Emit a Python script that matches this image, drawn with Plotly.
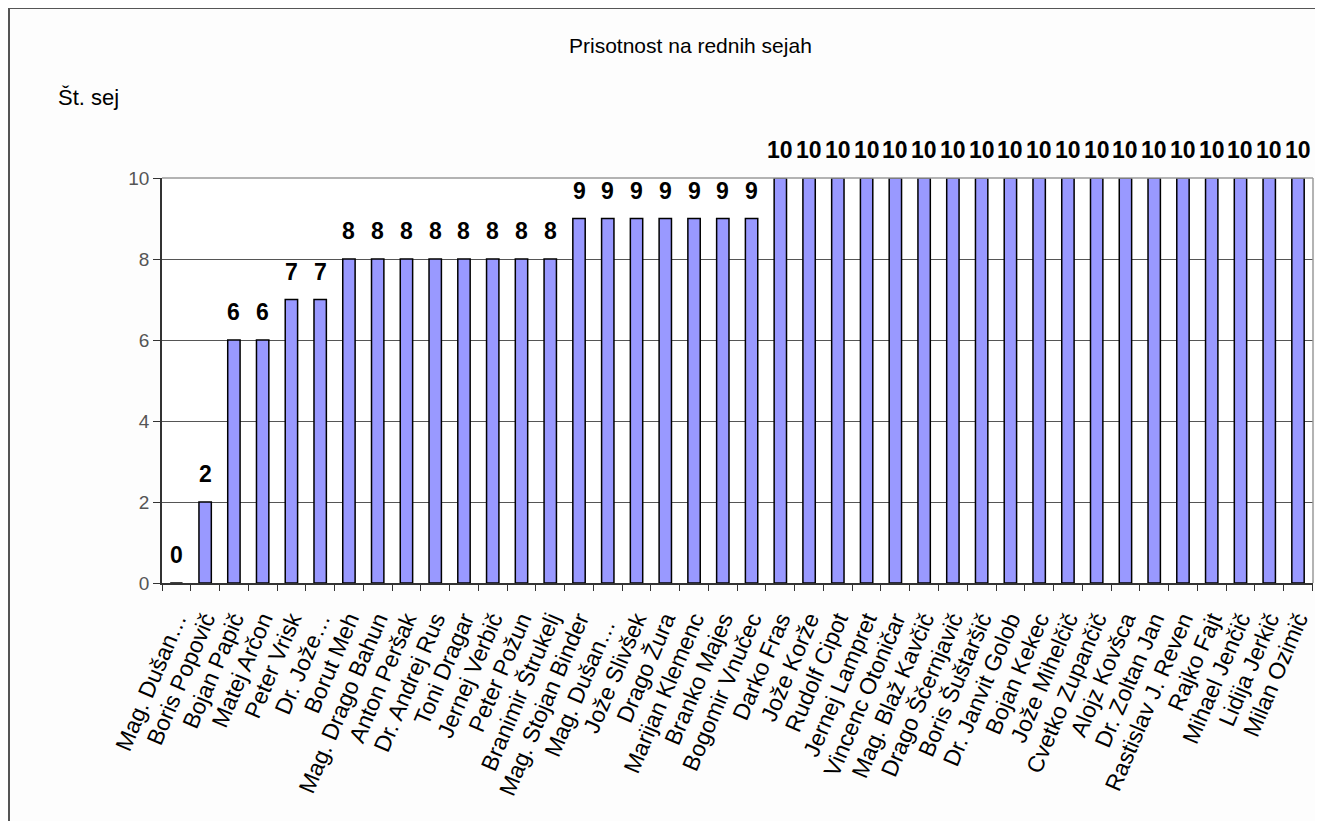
import plotly.graph_objects as go

names = [
    "Mag. Dušan…", "Boris Popovič", "Bojan Papič", "Matej Arčon", "Peter Vrisk",
    "Dr. Jože…", "Borut Meh", "Mag. Drago Bahun", "Anton Peršak", "Dr. Andrej Rus",
    "Toni Dragar", "Jernej Verbič", "Peter Požun", "Branimir Štrukelj",
    "Mag. Stojan Binder", "Mag. Dušan… ", "Jože Slivšek", "Drago Žura",
    "Marijan Klemenc", "Branko Majes", "Bogomir Vnučec", "Darko Fras",
    "Jože Korže", "Rudolf Cipot", "Jernej Lampret", "Vincenc Otoničar",
    "Mag. Blaž Kavčič", "Drago Ščernjavič", "Boris Šuštaršič", "Dr. Janvit Golob",
    "Bojan Kekec", "Jože Mihelčič", "Cvetko Zupančič", "Alojz Kovšca",
    "Dr. Zoltan Jan", "Rastislav J. Reven", "Rajko Fajt", "Mihael Jenčič",
    "Lidija Jerkič", "Milan Ozimič",
]
sessions = [0, 2, 6, 6, 7, 7, 8, 8, 8, 8, 8, 8, 8, 8,
            9, 9, 9, 9, 9, 9, 9,
            10, 10, 10, 10, 10, 10, 10, 10, 10, 10, 10, 10, 10, 10, 10, 10, 10, 10, 10]
y_ticks = [0, 2, 4, 6, 8, 10]

OFF = 8  # default body margin of the page
W, H = 1315, 813
L, R, T, B = 154, 10, 170, 238
pw, ph = W - L - R, H - T - B

def px_x(p):
    return (p - OFF - L) / pw

def px_y(p):
    return (H - B - (p - OFF)) / ph

fig = go.Figure(go.Bar(
    x=names, y=sessions,
    marker=dict(color="#9999FF", line=dict(color="#000000", width=1.5)),
))

# value labels, placed through the axes above each bar
for n, v in zip(names, sessions):
    fig.add_annotation(x=n, y=v, xref="x", yref="y", text=f"<b>{v}</b>",
                       showarrow=False, yanchor="bottom", yshift=13,
                       font=dict(family="Liberation Sans, Arial", size=23, color="#000000"))

fig.update_layout(
    width=W, height=H, autosize=False,
    margin=dict(l=L, r=R, t=T, b=B, pad=0),
    paper_bgcolor="#FDFDFD", plot_bgcolor="#FFFFFF",
    bargap=0.57, showlegend=False,
    font=dict(family="Liberation Sans, Arial", color="#000000"),
)
fig.update_xaxes(
    type="category", tickmode="linear", tick0=0, dtick=1,
    tickangle=-67, tickson="boundaries",
    ticks="outside", ticklen=6, tickcolor="#333333",
    showline=True, linecolor="#333333", linewidth=1.5,
    tickfont=dict(size=23, color="#000000"), mirror=False,
    showgrid=False, ticklabelstandoff=12,
)
fig.update_yaxes(
    range=[0, 10], tickvals=y_ticks, ticks="outside", ticklen=7, tickcolor="#333333",
    showline=True, linecolor="#333333", linewidth=1.5,
    showgrid=True, gridcolor="#555555", gridwidth=1,
    tickfont=dict(size=19, color="#555555"), zeroline=False,
)
# plot-area border top & right
fig.add_shape(type="line", xref="paper", yref="paper", x0=0, x1=1, y0=1, y1=1,
              line=dict(color="#9a9a9a", width=1.5))
fig.add_shape(type="line", xref="paper", yref="paper", x0=1, x1=1, y0=0, y1=1,
              line=dict(color="#9a9a9a", width=1.5))
# outer chart frame (top and left)
fig.add_shape(type="line", xref="paper", yref="paper", x0=px_x(9), x1=px_x(1330),
              y0=px_y(8), y1=px_y(8), line=dict(color="#555555", width=2))
fig.add_shape(type="line", xref="paper", yref="paper", x0=px_x(9), x1=px_x(9),
              y0=px_y(8), y1=px_y(830), line=dict(color="#555555", width=2))

fig.add_annotation(text="Prisotnost na rednih sejah", xref="paper", yref="paper",
                   x=px_x(690), y=px_y(45), yanchor="middle", showarrow=False,
                   font=dict(size=21, color="#000000"))
fig.add_annotation(text="Št. sej", xref="paper", yref="paper",
                   x=px_x(56), y=px_y(97), xanchor="left", yanchor="middle",
                   showarrow=False, font=dict(size=22, color="#000000"))

fig.write_html("out.html")
